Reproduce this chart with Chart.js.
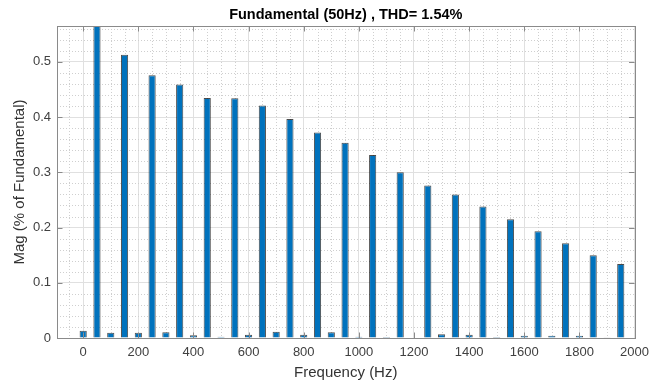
<!DOCTYPE html>
<html>
<head>
<meta charset="utf-8">
<script src="https://cdn.jsdelivr.net/npm/chart.js@4"></script>
<style>
  html, body { margin: 0; padding: 0; background: #fff; }
  #wrap { width: 656px; height: 385px; }
</style>
</head>
<body>
<div id="wrap"><canvas id="fftChart" width="656" height="385"></canvas></div>
<script>
// harmonic frequencies (Hz) and magnitudes (% of fundamental)
const freqs = [0, 50, 100, 150, 200, 250, 300, 350, 400, 450,
               500, 550, 600, 650, 700, 750, 800, 850, 900, 950,
               1000, 1050, 1100, 1150, 1200, 1250, 1300, 1350, 1400, 1450,
               1500, 1550, 1600, 1650, 1700, 1750, 1800, 1850, 1900, 1950];
const mags = [0.0133, 100, 0.0096, 0.513, 0.0096, 0.476, 0.0102, 0.459, 0.0048, 0.4345,
              0.0024, 0.434, 0.006, 0.421, 0.0114, 0.3966, 0.006, 0.372, 0.0102, 0.3537,
              0.0024, 0.3315, 0.002, 0.300, 0.001, 0.276, 0.0066, 0.260, 0.006, 0.238,
              0.0018, 0.215, 0.0042, 0.1935, 0.0042, 0.1718, 0.0042, 0.150, 0.0006, 0.1338];
const xTicks = [0, 200, 400, 600, 800, 1000, 1200, 1400, 1600, 1800, 2000];
const yTicks = [0, 0.1, 0.2, 0.3, 0.4, 0.5];
const titleText = "Fundamental (50Hz) , THD= 1.54%";

const FONT = "'Liberation Sans', Arial, Helvetica, sans-serif";
Chart.defaults.font.family = FONT;

// dotted minor grid behind the bars
const minorGrid = {
    id: "minorGrid",
    beforeDatasetsDraw(chart) {
        const {ctx, chartArea: a, scales: {x, y}} = chart;
        ctx.save();
        ctx.strokeStyle = "#cfcfcf";
        ctx.lineWidth = 1;
        ctx.setLineDash([1, 2]);
        ctx.beginPath();
        for (let f = Math.ceil(x.min / 50) * 50; f <= x.max; f += 50) {
            if (f % 200 === 0) continue;
            const px = Math.round(x.getPixelForValue(f)) + 0.5;
            ctx.moveTo(px, a.top);
            ctx.lineTo(px, a.bottom);
        }
        for (let i = 1; i * 0.02 <= y.max; i++) {
            if (i % 5 === 0) continue;
            const py = Math.round(y.getPixelForValue(i * 0.02)) + 0.5;
            ctx.moveTo(a.left, py);
            ctx.lineTo(a.right, py);
        }
        ctx.stroke();
        ctx.restore();
    }
};

// box around the axes with inward ticks, plus the title
const boxAndTitle = {
    id: "boxAndTitle",
    afterDatasetsDraw(chart) {
        const {ctx, chartArea: a, scales: {x, y}} = chart;
        const tl = 5.5;
        ctx.save();
        ctx.strokeStyle = "#8a8a8a";
        ctx.lineWidth = 1;
        ctx.beginPath();
        xTicks.forEach(v => {
            const px = Math.round(x.getPixelForValue(v)) + 0.5;
            ctx.moveTo(px, a.bottom);
            ctx.lineTo(px, a.bottom - tl);
            ctx.moveTo(px, a.top);
            ctx.lineTo(px, a.top + tl);
        });
        yTicks.forEach(v => {
            const py = Math.round(y.getPixelForValue(v)) + 0.5;
            ctx.moveTo(a.left, py);
            ctx.lineTo(a.left + tl, py);
            ctx.moveTo(a.right, py);
            ctx.lineTo(a.right - tl, py);
        });
        ctx.stroke();
        ctx.strokeRect(Math.round(a.left) + 0.5, Math.round(a.top) + 0.5,
                       Math.round(a.right - a.left), Math.round(a.bottom - a.top));
        ctx.fillStyle = "#000";
        ctx.font = "bold 14.5px " + FONT;
        ctx.textAlign = "center";
        ctx.textBaseline = "middle";
        ctx.fillText(titleText, (a.left + a.right) / 2, 15);
        ctx.restore();
    }
};

new Chart(document.getElementById("fftChart"), {
    type: "bar",
    data: {
        datasets: [{
            data: freqs.map((f, i) => ({x: f, y: mags[i]})),
            backgroundColor: "#0072BD",
            borderColor: "rgba(0,0,0,0.7)",
            borderWidth: 1,
            barPercentage: 0.52,
            categoryPercentage: 1.0
        }]
    },
    options: {
        responsive: false,
        animation: false,
        layout: { padding: { top: 26, right: 16, left: 0, bottom: 0 } },
        plugins: { legend: { display: false }, tooltip: { enabled: false } },
        scales: {
            x: {
                type: "linear",
                min: -95,
                max: 2000,
                offset: false,
                afterBuildTicks: scale => { scale.ticks = xTicks.map(v => ({value: v})); },
                afterFit: scale => { scale.height = 47; },
                grid: { color: "#e0e0e0", drawTicks: false, offset: false },
                border: { display: false },
                ticks: {
                    padding: 7,
                    color: "#404040",
                    font: { size: 13 },
                    maxRotation: 0,
                    autoSkip: false,
                    callback: v => String(v)
                },
                title: {
                    display: true,
                    text: "Frequency (Hz)",
                    color: "#333",
                    font: { size: 15 },
                    padding: { top: 0, bottom: 3 }
                }
            },
            y: {
                min: 0,
                max: 0.565,
                afterBuildTicks: scale => { scale.ticks = yTicks.map(v => ({value: v})); },
                afterFit: scale => { scale.width = 57; },
                grid: { color: "#e0e0e0", drawTicks: false },
                border: { display: false },
                ticks: {
                    padding: 6,
                    color: "#404040",
                    font: { size: 13 },
                    callback: v => String(v)
                },
                title: {
                    display: true,
                    text: "Mag (% of Fundamental)",
                    color: "#333",
                    font: { size: 15 },
                    padding: { top: 11, bottom: 0 }
                }
            }
        }
    },
    plugins: [minorGrid, boxAndTitle]
});
</script>
</body>
</html>
